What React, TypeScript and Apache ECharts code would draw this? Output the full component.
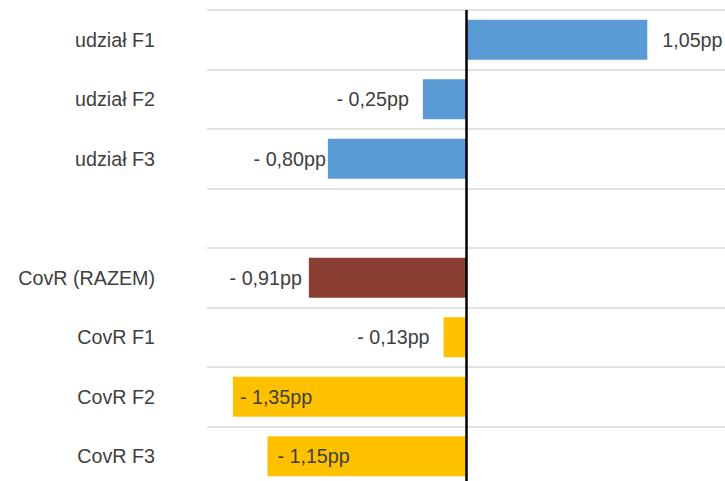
import React, { useEffect, useRef } from "react";
import * as echarts from "echarts";

const categories = ["udział F1", "udział F2", "udział F3", "", "CovR (RAZEM)", "CovR F1", "CovR F2", "CovR F3"];
const values: (number | null)[] = [1.05, -0.25, -0.8, null, -0.91, -0.13, -1.35, -1.15];
const barColors = ["#5B9BD5", "#5B9BD5", "#5B9BD5", "#5B9BD5", "#8B3E34", "#FFC000", "#FFC000", "#FFC000"];
const labelPositions = ["right", "left", "left", "left", "left", "left", "insideLeft", "insideLeft"];
const labelDistances = [15, 14, 2, 5, 7, 14, 7, 10];

const fmt = (v: number) => {
  const s = Math.abs(v).toFixed(2).replace(".", ",") + "pp";
  return v < 0 ? "- " + s : s;
};

const FONT = "Liberation Sans";

export default function App() {
  const ref = useRef<HTMLDivElement>(null);
  useEffect(() => {
    if (!ref.current) return;
    const chart = echarts.init(ref.current, null, { renderer: "svg" });
    chart.setOption({
      animation: false,
      backgroundColor: "#ffffff",
      grid: { left: 207, top: 10, width: 519, height: 476, containLabel: false },
      xAxis: {
        type: "value",
        min: -1.5,
        max: 1.5,
        show: false,
        splitLine: { show: false },
      },
      yAxis: {
        type: "category",
        data: categories,
        inverse: true,
        axisLine: { show: false, onZero: false },
        axisTick: { show: false },
        axisLabel: {
          margin: 52,
          fontSize: 19.7,
          color: "#404040",
          fontFamily: FONT,
        },
        splitLine: { show: true, interval: 0, lineStyle: { color: "#d9d9d9", width: 1.5 } },
      },
      series: [
        {
          type: "bar",
          barWidth: 40,
          data: values.map((v, i) => ({
            value: v,
            itemStyle: { color: barColors[i] },
            label: {
              show: v !== null,
              position: labelPositions[i],
              distance: labelDistances[i],
              formatter: () => (v === null ? "" : fmt(v)),
              fontSize: 19.7,
              color: "#404040",
              fontFamily: FONT,
            },
          })),
          markLine: {
            silent: true,
            symbol: "none",
            label: { show: false },
            lineStyle: { color: "#000000", width: 2.5, type: "solid" },
            data: [{ xAxis: 0 }],
          },
        },
      ],
    });
    return () => chart.dispose();
  }, []);
  return (
    <div style={{ position: "absolute", left: 0, top: 0, width: 725, height: 481, overflow: "hidden", background: "#fff" }}>
      <div ref={ref} style={{ width: 725, height: 500 }} />
    </div>
  );
}
